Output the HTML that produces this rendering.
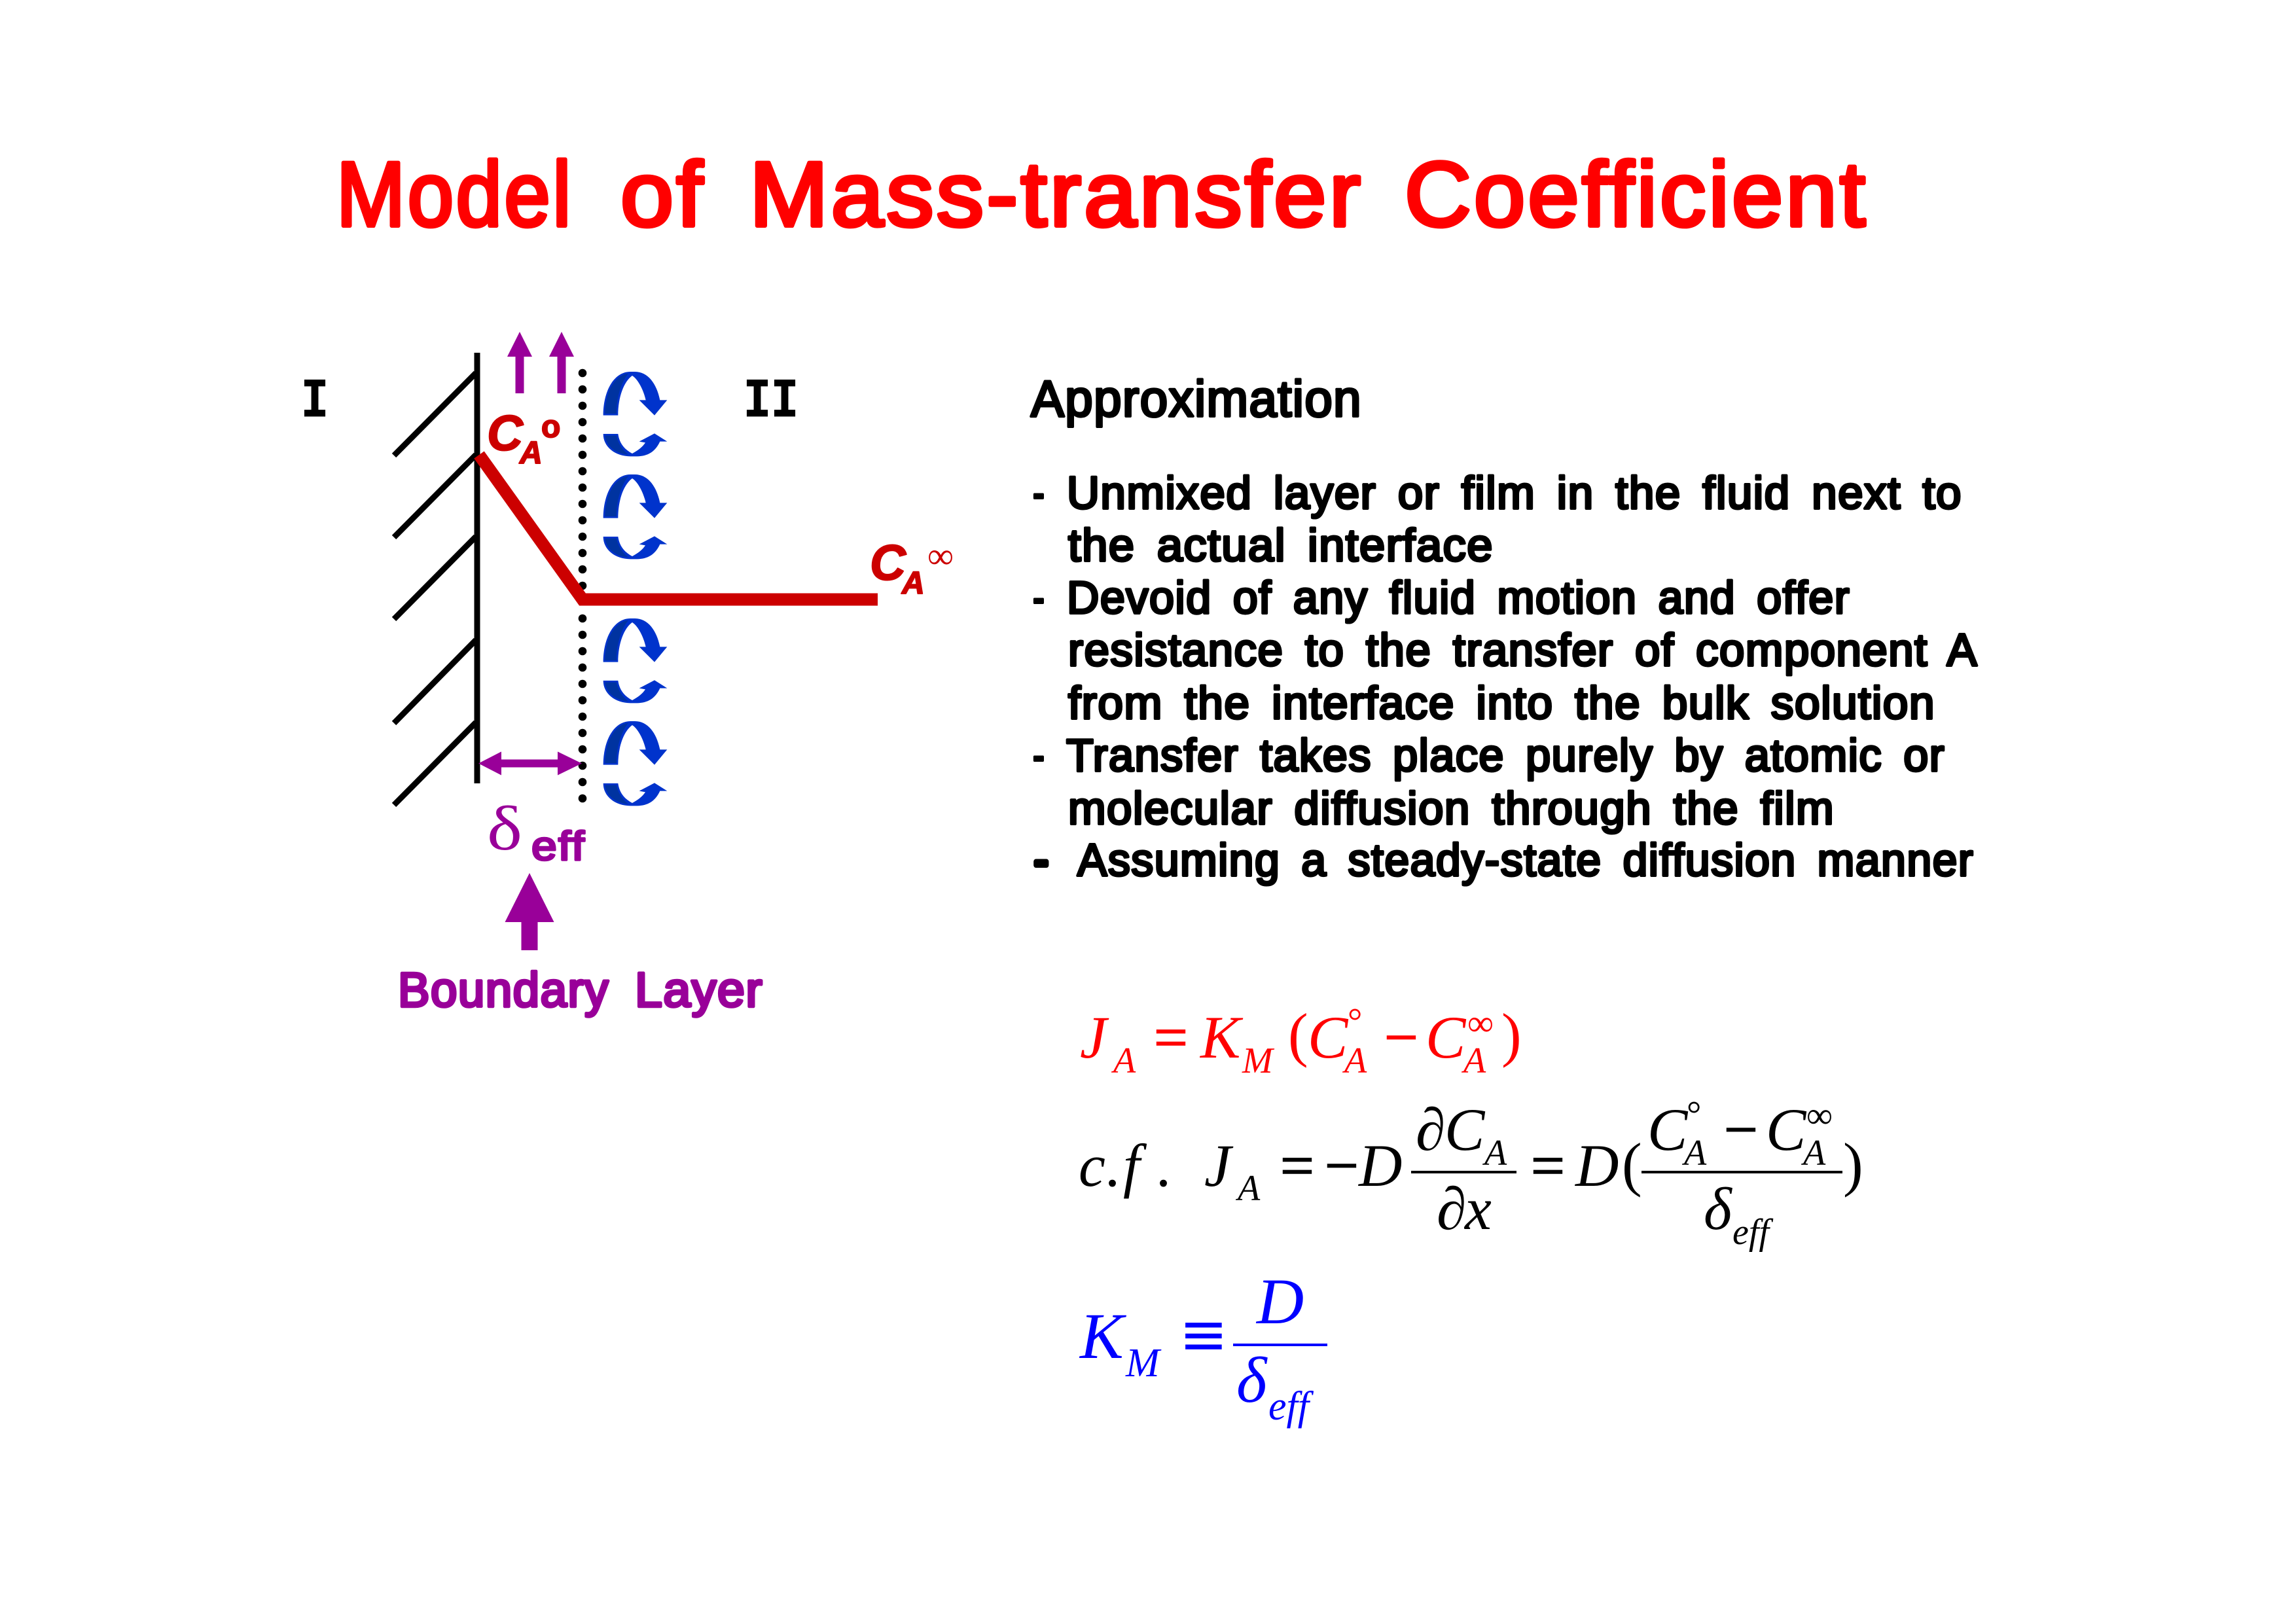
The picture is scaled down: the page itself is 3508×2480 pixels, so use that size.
<!DOCTYPE html>
<html><head><meta charset="utf-8"><style>
html,body{margin:0;padding:0;background:#fff}
svg{display:block}
.c{font-family:"Liberation Sans",sans-serif;stroke-linejoin:round;stroke-linecap:round;paint-order:stroke}
.t{fill:#ff0000;stroke:#ff0000;stroke-width:6px;font-size:140px;letter-spacing:4px}
.b{fill:#000;stroke:#000;stroke-width:4px;font-size:70px;letter-spacing:1.5px;word-spacing:12px}
.m{font-family:"Liberation Serif",serif;font-style:italic}
.n{font-family:"Liberation Serif",serif}
.f{font-size:92px}.s{font-size:56px}
.o{stroke:currentColor;stroke-width:1.6px}
</style></head><body>
<svg xmlns="http://www.w3.org/2000/svg" width="3508" height="2480" viewBox="0 0 3508 2480">
<rect width="3508" height="2480" fill="#fff"/>
<!-- Title -->
<g class="c t">
<text x="514" y="345" textLength="362" lengthAdjust="spacingAndGlyphs">Model</text>
<text x="948" y="345" textLength="130" lengthAdjust="spacingAndGlyphs">of</text>
<text x="1145" y="345" textLength="938" lengthAdjust="spacingAndGlyphs">Mass-transfer</text>
<text x="2146" y="345" textLength="708" lengthAdjust="spacingAndGlyphs">Coefficient</text>
</g>
<!-- Wall -->
<g stroke="#000" stroke-width="9" fill="none">
<line x1="602" y1="696" x2="727" y2="570"/>
<line x1="602" y1="821" x2="727" y2="695"/>
<line x1="602" y1="946" x2="727" y2="820"/>
<line x1="602" y1="1105" x2="727" y2="978"/>
<line x1="602" y1="1230" x2="727" y2="1104"/>
<line x1="729" y1="539" x2="729" y2="1197"/>
</g>
<!-- Dots -->
<g fill="#000">
<circle cx="890" cy="570" r="6.3"/><circle cx="890" cy="595" r="6.3"/><circle cx="890" cy="620" r="6.3"/><circle cx="890" cy="645" r="6.3"/><circle cx="890" cy="670" r="6.3"/><circle cx="890" cy="695" r="6.3"/><circle cx="890" cy="720" r="6.3"/><circle cx="890" cy="745" r="6.3"/><circle cx="890" cy="770" r="6.3"/><circle cx="890" cy="795" r="6.3"/><circle cx="890" cy="820" r="6.3"/><circle cx="890" cy="845" r="6.3"/><circle cx="890" cy="870" r="6.3"/><circle cx="890" cy="895" r="6.3"/><circle cx="890" cy="945" r="6.3"/><circle cx="890" cy="970" r="6.3"/><circle cx="890" cy="995" r="6.3"/><circle cx="890" cy="1020" r="6.3"/><circle cx="890" cy="1045" r="6.3"/><circle cx="890" cy="1070" r="6.3"/><circle cx="890" cy="1095" r="6.3"/><circle cx="890" cy="1120" r="6.3"/><circle cx="890" cy="1145" r="6.3"/><circle cx="890" cy="1170" r="6.3"/><circle cx="890" cy="1195" r="6.3"/><circle cx="890" cy="1220" r="6.3"/>
</g>
<!-- Red profile -->
<polyline points="732,695 890,916 1341,916" fill="none" stroke="#cc0000" stroke-width="19" stroke-linejoin="miter"/>
<!-- Purple arrows -->
<g fill="#990099">
<polygon points="794,507 813,545 800.5,545 800.5,601 787.5,601 787.5,545 775,545"/>
<polygon points="858,507 877,545 864.5,545 864.5,601 851.5,601 851.5,545 839,545"/>
<polygon points="731,1166.5 766,1148.5 766,1160.5 852,1160.5 852,1148.5 889,1166.5 852,1184.5 852,1172.5 766,1172.5 766,1184.5"/>
<polygon points="809,1334 846.5,1409 821.5,1409 821.5,1452 796.5,1452 796.5,1409 771.5,1409"/>
</g>
<!-- Blue arrows -->
<g transform="translate(700,600) scale(0.33333)">
<g transform="translate(0,-471)"><path fill="#0033cc" d="M665 575C665 470 710 375 790 375L810 375C870 375 910 430 925 505L958 505L900 575L830 505L860 505C850 460 825 410 798 393C760 420 733 490 733 575ZM665 660L733 660C740 710 770 735 798 750C825 735 845 720 858 700L830 695L900 658L958 695L925 695C905 740 870 763 820 763L790 763C720 763 665 720 665 660Z"/><path fill="#0033a0" d="M673 567C675 470 715 392 780 383C750 420 725 490 725 567ZM673 668L725 668C735 710 755 735 780 755C725 750 680 720 673 668Z"/></g>
<g><path fill="#0033cc" d="M665 575C665 470 710 375 790 375L810 375C870 375 910 430 925 505L958 505L900 575L830 505L860 505C850 460 825 410 798 393C760 420 733 490 733 575ZM665 660L733 660C740 710 770 735 798 750C825 735 845 720 858 700L830 695L900 658L958 695L925 695C905 740 870 763 820 763L790 763C720 763 665 720 665 660Z"/><path fill="#0033a0" d="M673 567C675 470 715 392 780 383C750 420 725 490 725 567ZM673 668L725 668C735 710 755 735 780 755C725 750 680 720 673 668Z"/></g>
<g transform="translate(0,660)"><path fill="#0033cc" d="M665 575C665 470 710 375 790 375L810 375C870 375 910 430 925 505L958 505L900 575L830 505L860 505C850 460 825 410 798 393C760 420 733 490 733 575ZM665 660L733 660C740 710 770 735 798 750C825 735 845 720 858 700L830 695L900 658L958 695L925 695C905 740 870 763 820 763L790 763C720 763 665 720 665 660Z"/><path fill="#0033a0" d="M673 567C675 470 715 392 780 383C750 420 725 490 725 567ZM673 668L725 668C735 710 755 735 780 755C725 750 680 720 673 668Z"/></g>
<g transform="translate(0,1131)"><path fill="#0033cc" d="M665 575C665 470 710 375 790 375L810 375C870 375 910 430 925 505L958 505L900 575L830 505L860 505C850 460 825 410 798 393C760 420 733 490 733 575ZM665 660L733 660C740 710 770 735 798 750C825 735 845 720 858 700L830 695L900 658L958 695L925 695C905 740 870 763 820 763L790 763C720 763 665 720 665 660Z"/><path fill="#0033a0" d="M673 567C675 470 715 392 780 383C750 420 725 490 725 567ZM673 668L725 668C735 710 755 735 780 755C725 750 680 720 673 668Z"/></g>
</g>
<!-- Labels I, II -->
<g font-family="'Liberation Mono',monospace" font-weight="bold" font-size="84" fill="#000" stroke="#000" stroke-width="1">
<text x="460" y="636" textLength="42" lengthAdjust="spacingAndGlyphs">I</text>
<text x="1136" y="636" textLength="84" lengthAdjust="spacingAndGlyphs">II</text>
</g>
<!-- CA labels -->
<g class="c" fill="#cc0000" stroke="#cc0000" stroke-width="2" font-weight="bold" font-style="italic">
<text x="744" y="688" font-size="76">C</text>
<text x="794" y="708" font-size="48">A</text>
<text x="827" y="668" font-size="48" font-style="normal">o</text>
<text x="1329" y="886" font-size="76">C</text>
<text x="1378" y="907" font-size="48">A</text>
</g>
<text class="n" x="1417" y="868" font-size="56" fill="#cc0000">∞</text>
<!-- delta eff -->
<text class="n" x="744" y="1298" font-size="96" fill="#990099" textLength="54" lengthAdjust="spacingAndGlyphs">δ</text>
<text class="c" x="812" y="1314" font-size="62" fill="#990099" stroke="#990099" stroke-width="3.5" letter-spacing="2" textLength="83" lengthAdjust="spacingAndGlyphs">eff</text>
<!-- Boundary Layer -->
<g class="c" fill="#990099" stroke="#990099" stroke-width="4.5" font-size="74" letter-spacing="1.5">
<text x="608" y="1538" textLength="323" lengthAdjust="spacingAndGlyphs">Boundary</text>
<text x="970" y="1538" textLength="196" lengthAdjust="spacingAndGlyphs">Layer</text>
</g>
<!-- Body text -->
<g class="c b">
<text x="1575" y="636" font-size="78" textLength="506" lengthAdjust="spacingAndGlyphs">Approximation</text>
<text x="1578" y="777" textLength="19" lengthAdjust="spacingAndGlyphs">-</text>
<text x="1630" y="777" textLength="1368" lengthAdjust="spacingAndGlyphs">Unmixed layer or film in the fluid next to</text>
<text x="1632" y="857" textLength="650" lengthAdjust="spacingAndGlyphs">the actual interface</text>
<text x="1578" y="937" textLength="19" lengthAdjust="spacingAndGlyphs">-</text>
<text x="1630" y="937" textLength="1197" lengthAdjust="spacingAndGlyphs">Devoid of any fluid motion and offer</text>
<text x="1632" y="1017" textLength="1390" lengthAdjust="spacingAndGlyphs">resistance to the transfer of component A</text>
<text x="1632" y="1098" textLength="1325" lengthAdjust="spacingAndGlyphs">from the interface into the bulk solution</text>
<text x="1578" y="1178" textLength="19" lengthAdjust="spacingAndGlyphs">-</text>
<text x="1629" y="1178" textLength="1343" lengthAdjust="spacingAndGlyphs">Transfer takes place purely by atomic or</text>
<text x="1632" y="1259" textLength="1171" lengthAdjust="spacingAndGlyphs">molecular diffusion through the film</text>
<text x="1580" y="1338" textLength="23" lengthAdjust="spacingAndGlyphs" stroke-width="8">-</text>
<text x="1646" y="1338" textLength="1370" lengthAdjust="spacingAndGlyphs">Assuming a steady-state diffusion manner</text>
</g>
<!-- Equation 1 -->
<g fill="#ff0000" color="#ff0000">
<text class="m f" x="1650" y="1616">J</text>
<text class="m s" x="1701" y="1639">A</text>
<text class="n f o" x="1763" y="1616">=</text>
<text class="m f" x="1834" y="1616">K</text>
<text class="m s" x="1898" y="1639">M</text>
<text class="n f" x="1968" y="1612">(</text>
<text class="m f" x="1998" y="1616">C</text>
<text class="n s" x="2059" y="1579">°</text>
<text class="m s" x="2054" y="1639">A</text>
<text class="n f o" x="2115" y="1616">−</text>
<text class="m f" x="2178" y="1616">C</text>
<text class="n s" x="2242" y="1582">∞</text>
<text class="m s" x="2236" y="1639">A</text>
<text class="n f" x="2294" y="1612">)</text>
</g>
<!-- Equation 2 -->
<g fill="#000" color="#000">
<text class="m f" x="1648" y="1812">c</text>
<text class="n f" x="1688" y="1812">.</text>
<text class="m f" x="1716" y="1812">f</text>
<text class="n f" x="1766" y="1812">.</text>
<text class="m f" x="1840" y="1812">J</text>
<text class="m s" x="1891" y="1834">A</text>
<text class="n f o" x="1956" y="1812">=</text>
<text class="n f o" x="2024" y="1812">−</text>
<text class="m f" x="2076" y="1812">D</text>
<rect x="2156" y="1789" width="161" height="4"/>
<text class="m f" x="2163" y="1757">∂</text>
<text class="m f" x="2207" y="1757">C</text>
<text class="m s" x="2268" y="1780">A</text>
<text class="m f" x="2195" y="1878">∂</text>
<text class="m f" x="2238" y="1878">x</text>
<text class="n f o" x="2339" y="1812">=</text>
<text class="m f" x="2407" y="1812">D</text>
<text class="n f" x="2478" y="1810">(</text>
<rect x="2508" y="1789" width="307" height="4"/>
<text class="m f" x="2517" y="1757">C</text>
<text class="n s" x="2577" y="1721">°</text>
<text class="m s" x="2573" y="1780">A</text>
<text class="n f o" x="2634" y="1757">−</text>
<text class="m f" x="2698" y="1757">C</text>
<text class="n s" x="2760" y="1723">∞</text>
<text class="m s" x="2755" y="1780">A</text>
<text class="n f" x="2816" y="1810">)</text>
<text class="m f" x="2603" y="1878">δ</text>
<text class="m s" x="2647" y="1901">eff</text>
</g>
<!-- Equation 3 -->
<g fill="#0000ff" color="#0000ff">
<text class="m" font-size="100" x="1650" y="2075">K</text>
<text class="m" font-size="62" x="1720" y="2103">M</text>
<text class="n o" font-size="116" x="1806" y="2080">≡</text>
<text class="m" font-size="100" x="1920" y="2022">D</text>
<rect x="1884" y="2053" width="144" height="4"/>
<text class="m" font-size="100" x="1889" y="2142">δ</text>
<text class="m" font-size="62" x="1938" y="2169">eff</text>
</g>
</svg>
</body></html>
